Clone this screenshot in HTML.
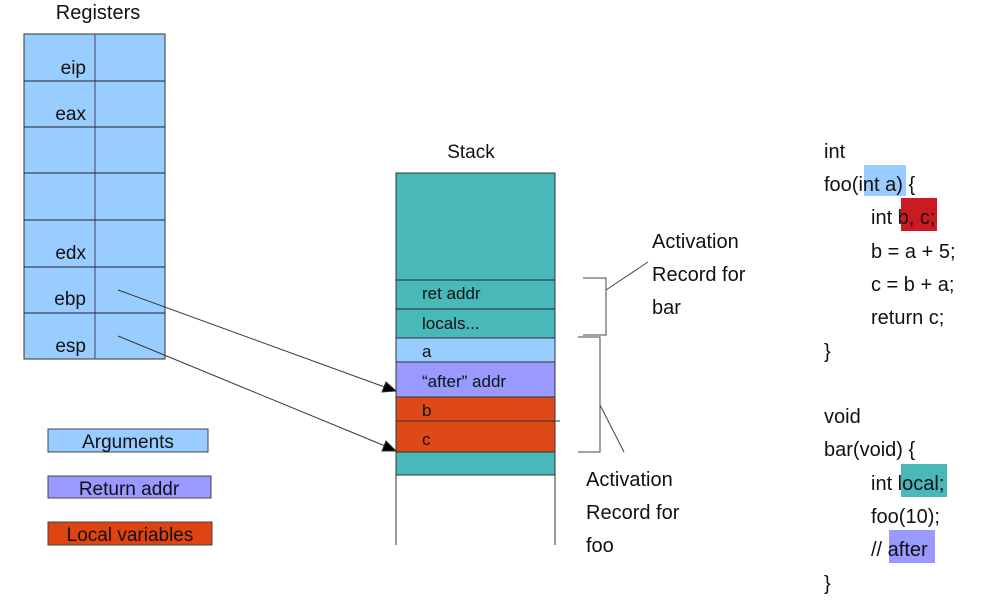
<!DOCTYPE html>
<html><head><meta charset="utf-8"><style>
body{margin:0;background:#fff;}
svg{display:block;font-family:"Liberation Sans",sans-serif;}
</style></head><body>
<svg width="988" height="613" viewBox="0 0 988 613">
<g font-size="19" fill="#111">
<text x="98" y="19" text-anchor="middle" font-size="20">Registers</text>
<rect x="24" y="34" width="141" height="325" fill="#99ccff" stroke="#333" stroke-width="1"/>
<line x1="95" y1="34" x2="95" y2="359" stroke="#446"/>
<g stroke="#223" stroke-width="1">
<line x1="24" y1="81" x2="165" y2="81"/><line x1="24" y1="127" x2="165" y2="127"/>
<line x1="24" y1="173" x2="165" y2="173"/><line x1="24" y1="220" x2="165" y2="220"/>
<line x1="24" y1="267" x2="165" y2="267"/><line x1="24" y1="313" x2="165" y2="313"/>
</g>
<text x="86" y="74" text-anchor="end">eip</text>
<text x="86" y="120" text-anchor="end">eax</text>
<text x="86" y="259" text-anchor="end">edx</text>
<text x="86" y="305" text-anchor="end">ebp</text>
<text x="86" y="352" text-anchor="end">esp</text>
</g>
<g font-size="19" fill="#111">
<rect x="48" y="429" width="160" height="23" fill="#99ccff" stroke="#444"/>
<text x="128" y="448" text-anchor="middle">Arguments</text>
<rect x="48" y="476" width="163" height="22" fill="#9999ff" stroke="#444"/>
<text x="129" y="495" text-anchor="middle">Return addr</text>
<rect x="48" y="522" width="164" height="23" fill="#dd4411" stroke="#444"/>
<text x="130" y="541" text-anchor="middle">Local variables</text>
</g>
<g font-size="17" fill="#111">
<text x="471" y="158" text-anchor="middle" font-size="19">Stack</text>
<rect x="396" y="173" width="159" height="165" fill="#48b8b8" stroke="#333"/>
<line x1="396" y1="280" x2="555" y2="280" stroke="#223"/>
<line x1="396" y1="309" x2="555" y2="309" stroke="#223"/>
<rect x="396" y="338" width="159" height="24" fill="#99ccff" stroke="#333"/>
<rect x="396" y="362" width="159" height="35" fill="#9999ff" stroke="#333"/>
<rect x="396" y="397" width="159" height="55" fill="#dd4a18" stroke="#333"/>
<line x1="396" y1="421" x2="560" y2="421" stroke="#333"/>
<rect x="396" y="452" width="159" height="23" fill="#48b8b8" stroke="#333"/>
<line x1="396" y1="475" x2="396" y2="545" stroke="#333"/>
<line x1="555" y1="475" x2="555" y2="545" stroke="#333"/>
<text x="422" y="299">ret addr</text>
<text x="422" y="329">locals...</text>
<text x="422" y="357">a</text>
<text x="422" y="387">“after” addr</text>
<text x="422" y="416">b</text>
<text x="422" y="445">c</text>
</g>
<g stroke="#333" stroke-width="1">
<line x1="118" y1="290" x2="390" y2="389"/>
<polygon points="396,391 382,392 386,382" fill="#000"/>
<line x1="118" y1="336" x2="390" y2="448"/>
<polygon points="396,451 382,451 386,441" fill="#000"/>
</g>
<g stroke="#444" fill="none" stroke-width="1">
<polyline points="583,278 606,278 606,335 583,335"/>
<line x1="606" y1="290" x2="648" y2="262"/>
<polyline points="578,337 600,337 600,452 578,452"/>
<line x1="600" y1="405" x2="624" y2="452"/>
</g>
<g font-size="20" fill="#111">
<text x="652" y="248">Activation</text><text x="652" y="281">Record for</text><text x="652" y="314">bar</text>
<text x="586" y="486">Activation</text><text x="586" y="519">Record for</text><text x="586" y="552">foo</text>
</g>
<g font-size="20" fill="#111">
<rect x="864" y="165" width="42" height="31" fill="#99ccff"/>
<rect x="901" y="198" width="36" height="33" fill="#cc1a22"/>
<rect x="901" y="464" width="46" height="33" fill="#48b8b8"/>
<rect x="889" y="530" width="46" height="33" fill="#9999ff"/>
<text x="824" y="158">int</text>
<text x="824" y="191">foo(int a) {</text>
<text x="871" y="224">int b, c;</text>
<text x="871" y="258">b = a + 5;</text>
<text x="871" y="291">c = b + a;</text>
<text x="871" y="324">return c;</text>
<text x="824" y="358">}</text>
<text x="824" y="423">void</text>
<text x="824" y="456">bar(void) {</text>
<text x="871" y="490">int local;</text>
<text x="871" y="523">foo(10);</text>
<text x="871" y="556">// after</text>
<text x="824" y="590">}</text>
</g>
</svg>
</body></html>
